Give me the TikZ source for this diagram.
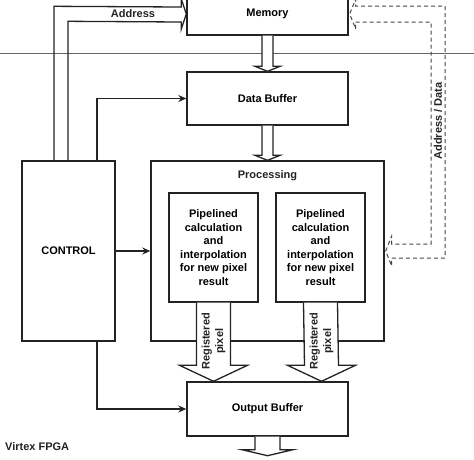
\documentclass[tikz,border=0pt]{standalone}
\usepackage{fontspec}
\setmainfont{Liberation Sans}
\usetikzlibrary{calc,arrows.meta}
\definecolor{ink}{RGB}{35,35,35}
\begin{document}
\begin{tikzpicture}[x=1pt,y=-1pt,
  font=\fontsize{11}{13.6}\selectfont\bfseries,
  blk/.style={draw=ink,line width=1.4pt,rectangle,inner sep=0pt,align=center},
  conn/.style={draw=ink,line width=1.3pt,-{Stealth[length=8pt,width=7pt]}},
  hollow/.style={draw=ink,line width=1.3pt,fill=white,line join=miter},
  openarr/.style={draw=ink,line width=1.3pt,line join=miter},
  dasharr/.style={draw=ink!85,line width=1pt,dash pattern=on 4pt off 3pt},
  lbl/.style={inner sep=0pt,align=center,text=ink}]
\useasboundingbox (0,0) rectangle (474,459);
\clip (0,0) rectangle (474,459);
\fill[white] (0,0) rectangle (474,459);

% FPGA boundary line
\draw[ink!70,line width=0.8pt] (0,53) -- (474,53);

% blocks
\node[blk,minimum width=161pt,minimum height=42pt] (mem) at (267.5,14) {Memory};
\node[blk,minimum width=161pt,minimum height=53pt] (db) at (267.5,98.5) {Data Buffer};
\node[blk,minimum width=233pt,minimum height=180pt] (proc) at (267.5,251) {};
\node[lbl] (proclbl) at ($(proc.north)+(0,15)$) {Processing};
\node[blk,minimum width=93pt,minimum height=180pt] (ctrl) at (68.5,251) {CONTROL};
\node[blk,minimum width=89pt,minimum height=109pt] (p1) at (213.5,247.5) {Pipelined\\calculation\\and\\interpolation\\for new pixel\\result};
\node[blk,minimum width=89pt,minimum height=109pt] (p2) at (320.5,247.5) {Pipelined\\calculation\\and\\interpolation\\for new pixel\\result};
\node[blk,minimum width=161pt,minimum height=54pt] (ob) at (267.5,409) {Output Buffer};
\node[lbl,anchor=west] (fpga) at (5,447) {Virtex FPGA};

% control connectors
\draw[conn] ($(ctrl.north)+(28.5,0)$) |- (db.west);
\draw[conn] (ctrl.east) -- (proc.west);
\draw[conn] ($(ctrl.south)+(28.5,0)$) |- (ob.west);

% Address hollow arrow (control -> memory)
\draw[openarr] ($(ctrl.north)+(-0.5,0)$) -- ($(ctrl.north)+(-0.5,-139)$)
  -- ($(mem.west)+(-5,8)$) -- ($(mem.west)+(-5,15)$) -- (mem.west)
  -- ($(mem.west)+(-5,-15)$) -- ($(mem.west)+(-5,-7)$)
  -- ($(ctrl.north)+(-14.5,-154)$) -- ($(ctrl.north)+(-14.5,0)$);
\node[lbl] (addr) at (133,14) {Address};

% Address / Data dashed bidirectional arrow (memory <-> processing)
\draw[dasharr] ($(mem.east)+(7,8)$) -- (431,22) -- (431,244)
  -- ($(proc.east)+(7,-7)$) -- ($(proc.east)+(7,-15)$) -- ($(proc.east)+(1,0)$)
  -- ($(proc.east)+(7,15)$) -- ($(proc.east)+(7,7)$) -- (445,258) -- (445,6)
  -- ($(mem.east)+(7,-8)$) -- ($(mem.east)+(7,-15)$) -- ($(mem.east)+(1,0)$)
  -- ($(mem.east)+(7,15)$) -- cycle;
\node[lbl,rotate=90] (addrdata) at (438,121) {Address / Data};

% memory -> data buffer
\draw[hollow] ($(mem.south)+(-5.5,0)$) -- ($(db.north)+(-5.5,-5)$) -- ($(db.north)+(-12.5,-5)$)
  -- (db.north) -- ($(db.north)+(12.5,-5)$) -- ($(db.north)+(5.5,-5)$) -- ($(mem.south)+(5.5,0)$);
% data buffer -> processing
\draw[hollow] ($(db.south)+(-5.5,0)$) -- ($(proc.north)+(-5.5,-5)$) -- ($(proc.north)+(-12.5,-5)$)
  -- (proc.north) -- ($(proc.north)+(12.5,-5)$) -- ($(proc.north)+(5.5,-5)$) -- ($(db.south)+(5.5,0)$);

% registered pixel arrows
\coordinate (t1) at ($(ob.north)+(-54,0)$);
\coordinate (t2) at ($(ob.north)+(54,0)$);
\draw[hollow] ($(p1.south)+(-17,0)$) -- ($(t1)+(-17,-16)$) -- ($(t1)+(-34,-16)$) -- (t1)
  -- ($(t1)+(34,-16)$) -- ($(t1)+(17,-16)$) -- ($(p1.south)+(17,0)$);
\draw[hollow] ($(p2.south)+(-17,0)$) -- ($(t2)+(-17,-16)$) -- ($(t2)+(-34,-16)$) -- (t2)
  -- ($(t2)+(34,-16)$) -- ($(t2)+(17,-16)$) -- ($(p2.south)+(17,0)$);
\node[lbl,rotate=90] (reg1) at ($(t1)+(0,-40)$) {Registered\\pixel};
\node[lbl,rotate=90] (reg2) at ($(t2)+(0,-40)$) {Registered\\pixel};

% output arrow
\coordinate (outtip) at ($(ob.south)+(0,19)$);
\draw[hollow] ($(ob.south)+(-12.5,0)$) -- ($(outtip)+(-12.5,-6)$) -- ($(outtip)+(-25.5,-6)$) -- (outtip)
  -- ($(outtip)+(25.5,-6)$) -- ($(outtip)+(12.5,-6)$) -- ($(ob.south)+(12.5,0)$);
\end{tikzpicture}
\end{document}
